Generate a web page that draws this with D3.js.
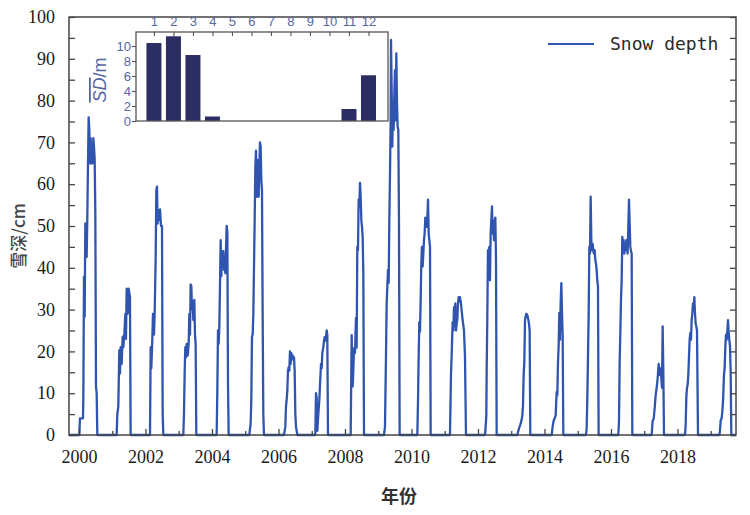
<!DOCTYPE html>
<html>
<head>
<meta charset="utf-8">
<script src="https://cdn.jsdelivr.net/npm/d3@7"></script>
<style>
  html, body { margin: 0; padding: 0; background: #fff; }
  svg { display: block; }
</style>
</head>
<body>
<svg id="chart" width="750" height="515"></svg>
<script>
// ---------------- DATA ----------------
// Snow depth (cm) per winter season: [decimal year, depth]
const s2000 = [[2000.010,0],[2000.030,4],[2000.121,4],[2000.131,8.8],[2000.151,37.9],[2000.171,28.3],[2000.191,50.6],[2000.211,48],[2000.231,42.6],[2000.251,52],[2000.271,65],[2000.291,76],[2000.311,73],[2000.331,65],[2000.351,71],[2000.371,65],[2000.391,69],[2000.411,65],[2000.432,71],[2000.452,69],[2000.472,66],[2000.492,53],[2000.512,11.6],[2000.532,10],[2000.552,0]];
const s2001 = [[2001.133,0],[2001.153,5],[2001.183,6.8],[2001.213,20.3],[2001.234,14.7],[2001.254,21],[2001.284,17],[2001.314,23.5],[2001.334,21],[2001.364,24],[2001.394,29],[2001.414,23],[2001.434,35],[2001.464,29],[2001.494,35],[2001.514,34],[2001.534,33],[2001.554,0]];
const s2002 = [[2002.136,0],[2002.156,21],[2002.176,16],[2002.206,23],[2002.226,29],[2002.256,24],[2002.276,29],[2002.306,42],[2002.326,58.6],[2002.346,59.4],[2002.366,50.6],[2002.386,53.8],[2002.416,51.4],[2002.437,54],[2002.467,50],[2002.497,50],[2002.517,5],[2002.537,0]];
const s2003 = [[2003.138,0],[2003.158,5],[2003.178,14.7],[2003.198,21],[2003.218,18.6],[2003.239,21.8],[2003.269,19],[2003.299,21.8],[2003.319,29],[2003.339,24],[2003.359,36],[2003.379,35.7],[2003.399,30],[2003.419,32],[2003.439,27.5],[2003.469,32.3],[2003.489,24],[2003.509,21.8],[2003.529,0]];
const s2004 = [[2004.141,0],[2004.161,10.5],[2004.181,25],[2004.201,21.8],[2004.221,25.8],[2004.241,35.7],[2004.261,46.6],[2004.281,38],[2004.301,44],[2004.321,42],[2004.341,44],[2004.361,39.5],[2004.381,42.6],[2004.401,38.7],[2004.442,50],[2004.462,48.5],[2004.482,12.2],[2004.502,0]];
const s2005 = [[2005.123,0],[2005.163,2.8],[2005.183,8.4],[2005.203,23.5],[2005.224,24],[2005.244,29],[2005.264,40.3],[2005.284,51.4],[2005.304,64],[2005.324,68],[2005.344,57],[2005.364,65.8],[2005.384,60],[2005.404,57],[2005.424,64],[2005.444,70],[2005.464,68.9],[2005.484,61],[2005.504,58.6],[2005.524,29],[2005.544,5],[2005.564,0]];
const s2006 = [[2006.166,0],[2006.206,2],[2006.226,6.8],[2006.246,8.4],[2006.266,10.6],[2006.286,15.4],[2006.306,16.2],[2006.326,15.4],[2006.346,20],[2006.366,17],[2006.387,19.6],[2006.407,18.6],[2006.427,19],[2006.447,18],[2006.467,18.6],[2006.487,15.4],[2006.507,5],[2006.527,2],[2006.567,0]];
const s2007 = [[2007.108,0],[2007.128,10],[2007.148,9],[2007.168,1],[2007.198,5],[2007.229,8.4],[2007.249,12],[2007.279,17],[2007.299,16],[2007.319,19.6],[2007.349,21],[2007.369,22.6],[2007.389,23.4],[2007.419,22.6],[2007.449,25],[2007.469,24],[2007.489,0]];
const s2008 = [[2008.171,0],[2008.201,23.9],[2008.231,11.6],[2008.251,15.5],[2008.271,20.7],[2008.301,19.6],[2008.331,28],[2008.351,20.9],[2008.371,45],[2008.391,44.2],[2008.411,56.3],[2008.431,54.7],[2008.452,60.3],[2008.472,57],[2008.492,51.4],[2008.512,49.8],[2008.532,47.4],[2008.552,38.7],[2008.572,0]];
const s2009 = [[2009.173,0],[2009.203,2],[2009.233,18.7],[2009.254,31.5],[2009.274,35.5],[2009.294,39.5],[2009.314,36.4],[2009.334,51.4],[2009.354,62.5],[2009.374,75.3],[2009.384,94.5],[2009.404,83],[2009.424,69],[2009.444,79.4],[2009.464,73],[2009.484,81.7],[2009.504,87.3],[2009.524,75.3],[2009.544,91.3],[2009.564,79.4],[2009.584,73.8],[2009.604,73],[2009.624,51.4],[2009.644,0]];
const s2010 = [[2010.176,0],[2010.196,8],[2010.216,18.7],[2010.236,27],[2010.256,24.7],[2010.276,32.3],[2010.296,41],[2010.316,45],[2010.336,40.3],[2010.356,43.4],[2010.376,46.6],[2010.396,48.2],[2010.416,52],[2010.437,51.4],[2010.457,49.8],[2010.477,51.8],[2010.497,56.3],[2010.517,48.2],[2010.537,46.6],[2010.557,45],[2010.577,0]];
const s2011 = [[2011.158,0],[2011.188,14.4],[2011.208,19],[2011.238,27],[2011.259,25],[2011.279,30.6],[2011.299,26],[2011.319,31.5],[2011.339,25],[2011.359,26.7],[2011.379,27.5],[2011.399,31.5],[2011.419,33],[2011.439,32],[2011.459,33],[2011.479,32],[2011.499,30.6],[2011.519,29],[2011.539,27.5],[2011.579,25],[2011.609,19],[2011.639,0]];
const s2012 = [[2012.211,0],[2012.231,2],[2012.251,4.7],[2012.261,15],[2012.281,28.4],[2012.301,44.2],[2012.321,38.7],[2012.341,45],[2012.361,37],[2012.381,48.2],[2012.401,51.4],[2012.421,54.7],[2012.441,48.2],[2012.462,49.8],[2012.482,46.6],[2012.502,51.4],[2012.522,52],[2012.542,41.8],[2012.562,0]];
const s2013 = [[2013.183,0],[2013.213,1],[2013.243,1.8],[2013.273,2.5],[2013.304,3.3],[2013.334,4.7],[2013.354,7],[2013.374,14.5],[2013.394,17.5],[2013.414,27.5],[2013.434,28.4],[2013.454,29],[2013.474,28.8],[2013.494,28.4],[2013.514,27.5],[2013.534,26.7],[2013.554,25],[2013.574,0]];
const s2014 = [[2014.216,0],[2014.246,2],[2014.276,3.4],[2014.306,4],[2014.336,4.7],[2014.366,10.3],[2014.386,9.5],[2014.406,17.3],[2014.426,21.3],[2014.446,29.2],[2014.466,22.8],[2014.486,31.5],[2014.507,36.3],[2014.527,29.2],[2014.547,23.6],[2014.567,0]];
const s2015 = [[2015.248,0],[2015.268,1.5],[2015.289,9],[2015.309,18.7],[2015.329,29],[2015.349,45],[2015.369,43.4],[2015.389,57],[2015.409,46.6],[2015.429,44.2],[2015.449,45.7],[2015.469,44],[2015.489,43.4],[2015.509,44.2],[2015.529,41.8],[2015.549,41],[2015.569,39.5],[2015.589,37],[2015.609,35.5],[2015.629,0]];
const s2016 = [[2016.221,0],[2016.241,3.4],[2016.261,17.3],[2016.281,24.5],[2016.301,32.3],[2016.321,37],[2016.341,47.4],[2016.361,45],[2016.381,46.6],[2016.401,43.4],[2016.421,45.7],[2016.441,44.2],[2016.461,46.6],[2016.481,45],[2016.501,43.4],[2016.522,49.8],[2016.542,56.3],[2016.562,50.6],[2016.582,45],[2016.602,44],[2016.622,43.4],[2016.642,0]];
const s2017 = [[2017.223,0],[2017.253,3.4],[2017.283,3.8],[2017.314,6.4],[2017.344,9.6],[2017.374,11.3],[2017.404,13.6],[2017.434,17],[2017.454,14.4],[2017.474,16],[2017.494,15],[2017.514,13.6],[2017.534,11.3],[2017.554,26],[2017.574,15.5],[2017.594,0]];
const s2018 = [[2018.226,0],[2018.246,2.4],[2018.266,9],[2018.286,11.3],[2018.306,12],[2018.326,14.4],[2018.346,18.7],[2018.366,22.8],[2018.386,24.4],[2018.406,22.8],[2018.426,27.5],[2018.446,29],[2018.466,31.5],[2018.487,30],[2018.507,33],[2018.527,29],[2018.547,26.7],[2018.567,26],[2018.587,25],[2018.617,0]];
const s2019 = [[2019.258,0],[2019.278,1],[2019.298,3.4],[2019.328,4],[2019.358,6.4],[2019.378,9.6],[2019.398,14.4],[2019.418,16],[2019.439,20.9],[2019.459,24],[2019.479,22.8],[2019.499,24.7],[2019.519,27.5],[2019.539,24.7],[2019.559,22.8],[2019.579,21.3],[2019.599,15.5],[2019.619,0]];

// Inset: monthly mean snow depth
const months = [1,2,3,4,5,6,7,8,9,10,11,12];
const monthlyMeanSD = [10.4, 11.3, 8.8, 0.6, 0, 0, 0, 0, 0, 0, 1.6, 6.1];
const insetYTicks = [0, 2, 4, 6, 8, 10];

// Main axes ticks
const yTickValues = [0,10,20,30,40,50,60,70,80,90,100];
const yMinorTicks = [5,15,25,35,45,55,65,75,85,95];
const xTickYears = [2000,2002,2004,2006,2008,2010,2012,2014,2016,2018];
const xMinorYears = [2001,2003,2005,2007,2009,2011,2013,2015,2017,2019];
const xDomain = [1999.7, 2019.76];

// ---------------- DRAW ----------------
const seasons = [s2000,s2001,s2002,s2003,s2004,s2005,s2006,s2007,s2008,s2009,s2010,s2011,s2012,s2013,s2014,s2015,s2016,s2017,s2018,s2019];
const series = [[xDomain[0], 0]].concat(...seasons, [[xDomain[1], 0]]);

const svg = d3.select("#chart");
const L = 69, R = 736, T = 17, B = 435;
const x = d3.scaleLinear().domain(xDomain).range([L, R]);
const y = d3.scaleLinear().domain([0, 100]).range([B, T]);

const lineColor = "#2f55b0";
const frameColor = "#444";
const serif = "'Liberation Serif', 'Times New Roman', serif";

// data line
svg.append("path")
  .datum(series)
  .attr("fill", "none")
  .attr("stroke", lineColor)
  .attr("stroke-width", 2.3)
  .attr("stroke-linejoin", "round")
  .attr("d", d3.line().x(d => x(d[0])).y(d => y(d[1])));

// axes
const gy = svg.append("g").attr("transform", `translate(${L},0)`)
  .call(d3.axisLeft(y).tickValues(yTickValues).tickFormat(d3.format("d")).tickSize(-6).tickPadding(14));
const gyMinor = svg.append("g").attr("transform", `translate(${L},0)`)
  .call(d3.axisLeft(y).tickValues(yMinorTicks).tickFormat("").tickSize(-6));
const gyR = svg.append("g").attr("transform", `translate(${R},0)`)
  .call(d3.axisRight(y).tickValues(yTickValues.concat(yMinorTicks)).tickFormat("").tickSize(-6));
const gx = svg.append("g").attr("transform", `translate(0,${B})`)
  .call(d3.axisBottom(x).tickValues(xTickYears).tickFormat(d3.format("d")).tickSize(-6).tickPadding(15));
const gxMinor = svg.append("g").attr("transform", `translate(0,${B})`)
  .call(d3.axisBottom(x).tickValues(xMinorYears).tickFormat("").tickSize(-4));

[gy, gyMinor, gyR, gx, gxMinor].forEach(g => {
  g.select(".domain").remove();
  g.selectAll(".tick line").attr("stroke", frameColor).attr("stroke-width", 1.3);
  g.selectAll(".tick text").attr("fill", "#1a1a1a").style("font-family", serif).style("font-size", "18px");
});

// frame
svg.append("rect").attr("x", L).attr("y", T).attr("width", R - L).attr("height", B - T)
  .attr("fill", "none").attr("stroke", frameColor).attr("stroke-width", 1.5);

// axis titles
svg.append("text")
  .attr("transform", "translate(25,236) rotate(-90)")
  .attr("text-anchor", "middle")
  .attr("fill", "#444")
  .style("font-family", "'Noto Sans CJK SC', sans-serif")
  .style("font-size", "17px")
  .style("font-weight", "500")
  .text("雪深/cm");
svg.append("text")
  .attr("x", 399).attr("y", 503)
  .attr("text-anchor", "middle")
  .attr("fill", "#333")
  .style("font-family", "'Noto Sans CJK SC', sans-serif")
  .style("font-size", "18px")
  .style("font-weight", "bold")
  .text("年份");

// legend
svg.append("line").attr("x1", 548).attr("x2", 594).attr("y1", 44).attr("y2", 44)
  .attr("stroke", lineColor).attr("stroke-width", 2);
svg.append("text").attr("x", 610).attr("y", 50)
  .attr("fill", "#2a2a2a")
  .style("font-family", "'DejaVu Sans Mono', monospace")
  .style("font-size", "18px")
  .text("Snow depth");

// ---------------- INSET ----------------
const iL = 136, iR = 388, iT = 32, iB = 121;
const insetColor = "#5567a3";
const xi = d3.scaleLinear().domain([0.08, 13.0]).range([iL, iR]);
const yi = d3.scaleLinear().domain([0, 11.87]).range([iB, iT]);
const barW = 15;

svg.append("rect").attr("x", iL).attr("y", iT).attr("width", iR - iL).attr("height", iB - iT)
  .attr("fill", "#fff");

svg.append("g").selectAll("rect")
  .data(months.map((m, i) => ({ m, v: monthlyMeanSD[i] })).filter(d => d.v > 0))
  .join("rect")
  .attr("x", d => xi(d.m) - barW / 2)
  .attr("width", barW)
  .attr("y", d => yi(d.v))
  .attr("height", d => yi(0) - yi(d.v))
  .attr("fill", "#2c2e63");

const giTop = svg.append("g").attr("transform", `translate(0,${iT})`)
  .call(d3.axisTop(xi).tickValues(months).tickFormat(d3.format("d")).tickSize(-4).tickPadding(6));
const giLeft = svg.append("g").attr("transform", `translate(${iL},0)`)
  .call(d3.axisLeft(yi).tickValues(insetYTicks).tickFormat(d3.format("d")).tickSize(4).tickPadding(1));
[giTop, giLeft].forEach(g => {
  g.select(".domain").remove();
  g.selectAll(".tick line").attr("stroke", "#555").attr("stroke-width", 1.1);
  g.selectAll(".tick text").attr("fill", insetColor)
    .style("font-family", "'Liberation Sans Narrow', 'Liberation Sans', sans-serif")
    .style("font-size", "13px");
});

svg.append("rect").attr("x", iL).attr("y", iT).attr("width", iR - iL).attr("height", iB - iT)
  .attr("fill", "none").attr("stroke", "#555").attr("stroke-width", 1.3);

// inset y label: SD (overlined, italic) / m
const lab = svg.append("text")
  .attr("transform", "translate(106,80) rotate(-90)")
  .attr("text-anchor", "middle")
  .attr("fill", insetColor)
  .style("font-family", "'Liberation Sans', sans-serif")
  .style("font-size", "18px");
lab.append("tspan").style("font-style", "italic").style("text-decoration", "overline").text("SD");
lab.append("tspan").text("/m");
</script>
</body>
</html>
